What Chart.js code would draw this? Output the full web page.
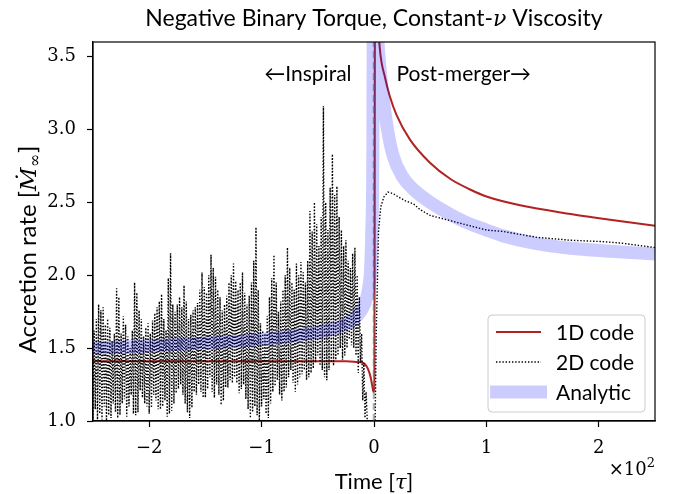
<!DOCTYPE html>
<html>
<head>
<meta charset="utf-8">
<script src="https://cdn.jsdelivr.net/npm/chart.js@4.4.1/dist/chart.umd.min.js"></script>
<style>
  html, body { margin: 0; padding: 0; background: #fff; }
  canvas { display: block; }
</style>
</head>
<body>
<canvas id="js-accretion-chart" width="675" height="494"></canvas>
<script>
// Time is in units of tau (axis shows x 10^2)
const xTicks = [-200, -100, 0, 100, 200];
const xTickLabels = ['\u22122', '\u22121', '0', '1', '2'];
const yTicks = [1.0, 1.5, 2.0, 2.5, 3.0, 3.5];
const yTickLabels = ['1.0', '1.5', '2.0', '2.5', '3.0', '3.5'];

// 1D code
const oneDTime = [-250, -150, -60, -25, -15, -10, -7, -5, -3, -1.5, -0.5, 0.3, 1, 3, 5, 10, 14, 20, 32, 50, 68, 85, 100, 130, 175, 210, 250];
const oneDRate = [1.41, 1.41, 1.41, 1.41, 1.405, 1.40, 1.38, 1.35, 1.30, 1.24, 1.20, 1.25, 4.6, 3.85, 3.57, 3.35, 3.23, 3.10, 2.93, 2.77, 2.66, 2.59, 2.54, 2.48, 2.42, 2.38, 2.34];

// 2D code, inspiral part (one sample per tau from -250 to -11), then the tail
const twoDInspiralStart = -250;
const twoDInspiralStep = 1;
const twoDInspiral = [
  1.02, 1.62, 1.08, 1.70, 1.00, 1.80, 1.05, 1.76, 1.01, 1.78, 1.10, 1.66, 1.00, 1.70, 1.04, 1.64, 1.02, 1.55, 1.12, 1.60,
  1.06, 1.91, 1.02, 1.85, 1.04, 1.60, 1.12, 1.72, 1.15, 1.66, 1.03, 1.58, 1.10, 1.50, 1.18, 1.62, 1.05, 1.95, 1.04, 1.88,
  1.06, 1.76, 1.21, 1.70, 1.16, 1.58, 1.12, 1.64, 1.10, 1.67, 1.05, 1.60, 1.09, 1.69, 1.18, 1.74, 1.14, 1.78, 1.08, 1.82,
  1.08, 1.87, 1.10, 1.70, 1.14, 1.62, 1.03, 1.98, 1.05, 2.15, 1.07, 1.80, 1.12, 1.75, 1.19, 1.80, 1.22, 1.85, 1.25, 1.78,
  1.18, 1.93, 1.12, 1.82, 1.06, 1.70, 1.02, 1.73, 1.09, 1.76, 1.20, 1.78, 1.18, 1.81, 1.25, 1.90, 1.20, 2.02, 1.16, 1.92,
  1.16, 1.88, 1.22, 2.00, 1.30, 2.14, 1.20, 2.05, 1.16, 1.99, 1.25, 1.90, 1.18, 1.85, 1.11, 1.76, 1.14, 1.80, 1.23, 1.86,
  1.23, 1.95, 1.28, 2.00, 1.26, 2.08, 1.30, 1.96, 1.26, 1.90, 1.19, 1.95, 1.22, 2.02, 1.25, 1.88, 1.15, 1.80, 1.08, 1.86,
  1.02, 1.95, 1.06, 2.10, 1.10, 2.33, 1.04, 1.90, 1.00, 1.67, 1.10, 1.62, 1.15, 1.60, 1.05, 1.72, 1.02, 1.85, 1.12, 1.98,
  1.20, 2.14, 1.24, 1.95, 1.28, 1.75, 1.18, 1.82, 1.14, 1.90, 1.20, 2.00, 1.23, 2.19, 1.30, 2.05, 1.35, 1.95, 1.26, 1.90,
  1.20, 2.08, 1.25, 2.00, 1.30, 2.09, 1.32, 2.02, 1.35, 1.95, 1.28, 2.10, 1.30, 2.44, 1.33, 2.30, 1.36, 2.50, 1.40, 2.35,
  1.45, 2.20, 1.38, 2.40, 1.35, 3.16, 1.30, 2.50, 1.28, 2.31, 1.35, 2.60, 1.40, 2.83, 1.38, 2.55, 1.42, 2.61, 1.45, 2.40,
  1.50, 2.31, 1.42, 2.20, 1.45, 2.24, 1.50, 2.10, 1.56, 2.05, 1.52, 2.15, 1.50, 2.19, 1.45, 2.00, 1.33, 1.85, 1.40, 1.60
];
const twoDTailTime = [-10, -9, -8, -7, -6, -5];
const twoDTailRate = [1.14, 1.40, 1.02, 1.20, 1.00, 0.98];
const twoDMergerTime = [1, 2, 4, 6, 9, 12.5, 17, 21, 28, 35, 41, 50, 60, 70, 85, 100, 115, 130, 145, 160, 175, 190, 205, 220, 235, 250];
const twoDMergerRate = [0.98, 1.6, 2.3, 2.47, 2.54, 2.57, 2.56, 2.54, 2.51, 2.49, 2.45, 2.41, 2.39, 2.37, 2.34, 2.31, 2.30, 2.28, 2.26, 2.25, 2.24, 2.235, 2.23, 2.22, 2.205, 2.19];

// Analytic
const analyticTime = [-250, -200, -150, -100, -60, -40, -25, -15, -8, -5, -3, -2, -1, -0.5, 0.5, 1.5, 3, 5, 8, 12, 17, 25, 35, 50, 65, 80, 100, 115, 150, 175, 210, 250];
const analyticRate = [1.50, 1.515, 1.535, 1.56, 1.595, 1.625, 1.665, 1.72, 1.81, 1.90, 2.05, 2.3, 2.9, 4.5, 5.0, 4.2, 3.7, 3.45, 3.23, 3.0, 2.82, 2.68, 2.59, 2.50, 2.43, 2.37, 2.31, 2.27, 2.21, 2.185, 2.165, 2.145];

// Merger marker
const mergerLineTime = [0, 0];
const mergerLineRate = [1.0, 3.6];

const toPoints = (xs, ys) => xs.map((x, i) => ({ x: x, y: ys[i] }));

const twoDPoints = twoDInspiral
  .map((v, i) => ({ x: twoDInspiralStart + i * twoDInspiralStep, y: v }))
  .concat(toPoints(twoDTailTime, twoDTailRate))
  .concat([{ x: -2, y: null }])
  .concat(toPoints(twoDMergerTime, twoDMergerRate));

const SANS = 'Lato, "Open Sans", sans-serif';
const SERIF = '"DejaVu Serif", serif';

// Frame, title, labels, notes and legend
const decorations = {
  id: 'decorations',
  afterDraw(chart) {
    const ctx = chart.ctx;
    const area = chart.chartArea;
    const xs = chart.scales.x;
    const ys = chart.scales.y;
    ctx.save();

    // full box around the axes
    ctx.strokeStyle = '#000';
    ctx.lineWidth = 1.2;
    ctx.strokeRect(area.left, area.top, area.right - area.left, area.bottom - area.top);

    // title with italic nu
    ctx.fillStyle = '#000';
    ctx.textBaseline = 'alphabetic';
    const t1 = 'Negative Binary Torque, Constant-';
    const t2 = '\u03bd';
    const t3 = ' Viscosity';
    ctx.font = '23px ' + SANS;
    const w1 = ctx.measureText(t1).width;
    const w3 = ctx.measureText(t3).width;
    ctx.font = 'italic 22px ' + SERIF;
    const w2 = ctx.measureText(t2).width;
    let tx = (area.left + area.right) / 2 - (w1 + w2 + w3) / 2;
    const ty = 26;
    ctx.font = '23px ' + SANS;
    ctx.textAlign = 'left';
    ctx.fillText(t1, tx, ty);
    ctx.font = 'italic 22px ' + SERIF;
    ctx.fillText(t2, tx + w1, ty);
    ctx.font = '23px ' + SANS;
    ctx.fillText(t3, tx + w1 + w2, ty);

    // y axis title, rotated
    ctx.save();
    ctx.translate(36, 250);
    ctx.rotate(-Math.PI / 2);
    const a1 = 'Accretion rate [';
    const a2 = '\u1e40';
    const a3 = '\u221e';
    const a4 = ']';
    ctx.font = '24px ' + SANS;
    const b1 = ctx.measureText(a1).width;
    const b4 = ctx.measureText(a4).width;
    ctx.font = 'italic 23px ' + SERIF;
    const b2 = ctx.measureText(a2).width;
    ctx.font = '16px ' + SERIF;
    const b3 = ctx.measureText(a3).width;
    let ax = -(b1 + b2 + b3 + b4) / 2;
    ctx.font = '24px ' + SANS;
    ctx.fillText(a1, ax, 0);
    ctx.font = 'italic 23px ' + SERIF;
    ctx.fillText(a2, ax + b1, 0);
    ctx.font = '16px ' + SERIF;
    ctx.fillText(a3, ax + b1 + b2, 4);
    ctx.font = '24px ' + SANS;
    ctx.fillText(a4, ax + b1 + b2 + b3 + 1, 0);
    ctx.restore();

    // x axis title
    const x1 = 'Time [';
    const x2 = '\u03c4';
    const x3 = ']';
    ctx.font = '22px ' + SANS;
    const c1 = ctx.measureText(x1).width;
    const c3 = ctx.measureText(x3).width;
    ctx.font = 'italic 21px ' + SERIF;
    const c2 = ctx.measureText(x2).width;
    let lx = (area.left + area.right) / 2 - (c1 + c2 + c3) / 2;
    const ly = 489;
    ctx.font = '22px ' + SANS;
    ctx.fillText(x1, lx, ly);
    ctx.font = 'italic 21px ' + SERIF;
    ctx.fillText(x2, lx + c1, ly);
    ctx.font = '22px ' + SANS;
    ctx.fillText(x3, lx + c1 + c2, ly);

    // offset text x10^2
    ctx.textAlign = 'right';
    ctx.font = '13px ' + SERIF;
    const supW = ctx.measureText('2').width;
    ctx.fillText('2', area.right, 467);
    ctx.font = '18px ' + SERIF;
    ctx.fillText('\u00d710', area.right - supW, 475);

    // phase notes
    ctx.font = '21px ' + SANS;
    ctx.textBaseline = 'middle';
    ctx.textAlign = 'right';
    ctx.fillText('\u2190Inspiral', xs.getPixelForValue(-20), ys.getPixelForValue(3.38));
    ctx.textAlign = 'left';
    ctx.fillText('Post-merger\u2192', xs.getPixelForValue(20), ys.getPixelForValue(3.38));

    // legend
    const bw = 157, bh = 97;
    const bx = area.right - 10 - bw;
    const by = area.bottom - 9 - bh;
    ctx.beginPath();
    ctx.roundRect(bx, by, bw, bh, 4);
    ctx.fillStyle = 'rgba(255,255,255,0.8)';
    ctx.fill();
    ctx.strokeStyle = '#cccccc';
    ctx.lineWidth = 1;
    ctx.stroke();

    const rows = [by + 17, by + 47, by + 77];
    const labels = ['1D code', '2D code', 'Analytic'];
    // 1D handle
    ctx.strokeStyle = '#b22222';
    ctx.lineWidth = 2;
    ctx.beginPath();
    ctx.moveTo(bx + 8, rows[0]);
    ctx.lineTo(bx + 53, rows[0]);
    ctx.stroke();
    // 2D handle
    ctx.strokeStyle = '#000';
    ctx.lineWidth = 1.4;
    ctx.setLineDash([1.4, 1.8]);
    ctx.beginPath();
    ctx.moveTo(bx + 8, rows[1]);
    ctx.lineTo(bx + 53, rows[1]);
    ctx.stroke();
    ctx.setLineDash([]);
    // analytic handle
    ctx.fillStyle = 'rgba(0,0,255,0.2)';
    ctx.fillRect(bx + 2, rows[2] - 6.5, 57, 13);

    ctx.fillStyle = '#000';
    ctx.font = '21px ' + SANS;
    ctx.textAlign = 'left';
    ctx.textBaseline = 'middle';
    labels.forEach((lab, i) => ctx.fillText(lab, bx + 68, rows[i] + 1));

    ctx.restore();
  }
};

const chartContext = document.getElementById('js-accretion-chart').getContext('2d');

const config = {
  type: 'line',
  data: {
    datasets: [
      {
        label: 'Analytic',
        data: toPoints(analyticTime, analyticRate),
        borderColor: 'rgba(0,0,255,0.2)',
        borderWidth: 13,
        pointRadius: 0,
        cubicInterpolationMode: 'monotone',
        borderCapStyle: 'butt',
        clip: 0,
        order: 0,
      },
      {
        label: 'merger',
        data: toPoints(mergerLineTime, mergerLineRate),
        borderColor: 'rgba(110,110,110,0.55)',
        borderWidth: 2.5,
        borderDash: [7, 4],
        pointRadius: 0,
        clip: 0,
        order: 1,
      },
      {
        label: '2D code',
        data: twoDPoints,
        borderColor: '#000',
        borderWidth: 1.4,
        borderDash: [1.4, 1.8],
        pointRadius: 0,
        tension: 0,
        spanGaps: false,
        clip: 0,
        order: 2,
      },
      {
        label: '1D code',
        data: toPoints(oneDTime, oneDRate),
        borderColor: '#b22222',
        borderWidth: 2,
        pointRadius: 0,
        cubicInterpolationMode: 'monotone',
        clip: 0,
        order: 3,
      },
    ],
  },
  options: {
    responsive: false,
    animation: false,
    devicePixelRatio: 1,
    layout: { padding: { top: 42, right: 20, left: 0, bottom: 0 } },
    plugins: {
      legend: { display: false },
      title: { display: false },
      tooltip: { enabled: false },
    },
    scales: {
      x: {
        type: 'linear',
        min: -250,
        max: 250,
        afterFit: (s) => { s.height = 73; },
        afterBuildTicks: (s) => { s.ticks = xTicks.map((v) => ({ value: v })); },
        ticks: {
          color: '#000',
          font: { family: SERIF, size: 18 },
          padding: 11,
          maxRotation: 0,
          callback: (v) => xTickLabels[xTicks.indexOf(v)],
        },
        grid: { drawOnChartArea: false, drawTicks: true, tickLength: 6, color: '#000', tickWidth: 1.2 },
        border: { display: true, color: '#000', width: 1.2 },
      },
      y: {
        type: 'linear',
        min: 1.0,
        max: 3.6,
        afterFit: (s) => { s.width = 93; },
        afterBuildTicks: (s) => { s.ticks = yTicks.map((v) => ({ value: v })); },
        ticks: {
          color: '#000',
          font: { family: SERIF, size: 18 },
          padding: 11,
          callback: (v) => yTickLabels[yTicks.indexOf(v)],
        },
        grid: { drawOnChartArea: false, drawTicks: true, tickLength: 6, color: '#000', tickWidth: 1.2 },
        border: { display: true, color: '#000', width: 1.2 },
      },
    },
  },
  plugins: [decorations],
};

const accretionChart = new Chart(chartContext, config);
</script>
</body>
</html>
